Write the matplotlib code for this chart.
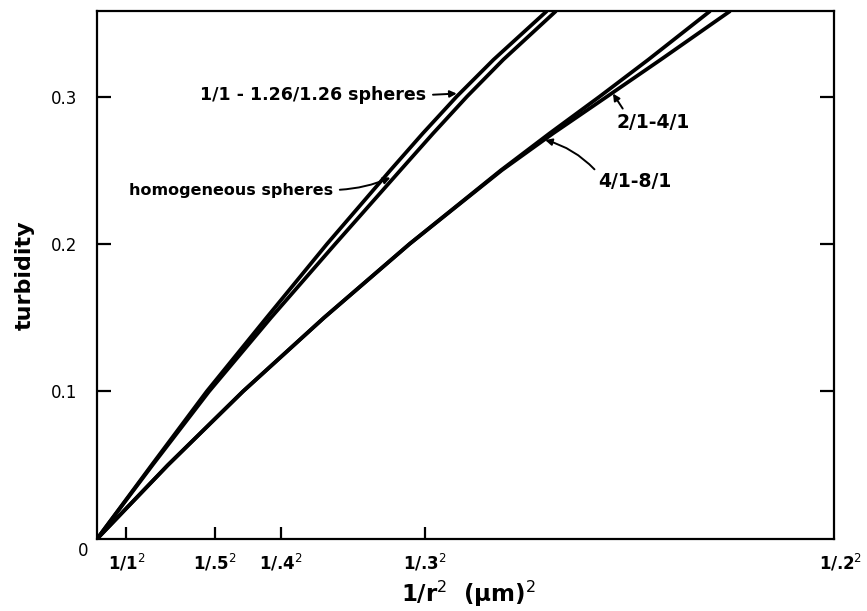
import numpy as np
import matplotlib.pyplot as plt

# x = 1/r^2 (um^-2), y = turbidity
turb = [0, 0.05, 0.10, 0.15, 0.20, 0.25, 0.275, 0.30, 0.325, 0.358]

ss_x = [0, 1.85, 3.72, 5.75, 7.80, 9.95, 11.05, 12.20, 13.45, 15.26]     # 1/1 - 1.26/1.26
hom_x = [0, 1.88, 3.80, 5.90, 8.08, 10.29, 11.40, 12.55, 13.78, 15.57]   # homogeneous
r48_x = [0, 2.40, 4.95, 7.70, 10.60, 13.70, 15.35, 17.05, 18.70, 20.80]  # 4/1 - 8/1
r24_x = [0, 2.40, 4.95, 7.70, 10.60, 13.73, 15.47, 17.30, 19.12, 21.48]  # 2/1 - 4/1

xtick_vals = [1, 4, 6.25, 100 / 9]
xtick_labels = ['1/1$^2$', '1/.5$^2$', '1/.4$^2$', '1/.3$^2$']
ytick_vals = [0.1, 0.2, 0.3]
ytick_labels = ['0.1', '0.2', '0.3']

fig = plt.figure(figsize=(8.67, 6.11), dpi=100)
ax = fig.add_axes([0.1119, 0.118, 0.8501, 0.864])

lw = 2.7
for xs in [ss_x, hom_x, r48_x, r24_x]:
    ax.plot(xs, turb, color='black', lw=lw, solid_capstyle='butt', solid_joinstyle='round')

ax.set_xlim(0, 25)
ax.set_ylim(0, 0.358)
for s in ax.spines.values():
    s.set_linewidth(1.6)

ax.set_xticks(xtick_vals)
ax.set_xticklabels(xtick_labels, fontsize=12, fontweight='bold')
ax.set_yticks(ytick_vals)
ax.set_yticklabels(ytick_labels, fontsize=12)
ax.tick_params(axis='x', direction='in', length=9, width=1.6, pad=10)
ax.tick_params(axis='y', direction='in', length=10, width=1.6, right=True, pad=14)

ax.text(-0.3, -0.002, '0', ha='right', va='top', fontsize=12)
ax.text(25.95, -0.009, '1/.2$^2$', ha='right', va='top', fontsize=12, fontweight='bold',
        clip_on=False)

ax.set_ylabel('turbidity', fontsize=16, fontweight='bold', labelpad=12)
ax.set_xlabel('1/r$^2$  ($\\mathbf{\\mu}$m)$^2$', fontsize=16.5, fontweight='bold')
ax.xaxis.set_label_coords(0.504, -0.076)

akw = dict(arrowstyle='-|>', color='black', lw=1.4, mutation_scale=10)
ax.annotate('1/1 - 1.26/1.26 spheres', xy=(12.2, 0.302), xytext=(11.16, 0.301),
            fontsize=12.5, fontweight='bold', ha='right', va='center',
            arrowprops=dict(akw, shrinkA=3, shrinkB=0, relpos=(1.0, 0.5)))
ax.annotate('homogeneous spheres', xy=(9.95, 0.245), xytext=(8.0, 0.2366),
            fontsize=11.5, fontweight='bold', ha='right', va='center',
            arrowprops=dict(akw, shrinkA=3, shrinkB=0, relpos=(1.0, 0.5),
                            connectionstyle='arc3,rad=0.1'))
ax.annotate('2/1-4/1', xy=(17.5, 0.302), xytext=(17.62, 0.2827),
            fontsize=13.5, fontweight='bold', ha='left', va='center',
            arrowprops=dict(akw, shrinkA=1, shrinkB=0, relpos=(0.12, 1.0)))
ax.annotate('4/1-8/1', xy=(15.2, 0.2705), xytext=(17.0, 0.2427),
            fontsize=13.5, fontweight='bold', ha='left', va='center',
            arrowprops=dict(akw, shrinkA=1, shrinkB=0, relpos=(0.0, 0.9),
                            connectionstyle='arc3,rad=0.15'))

fig.savefig('out.png', dpi=100)
